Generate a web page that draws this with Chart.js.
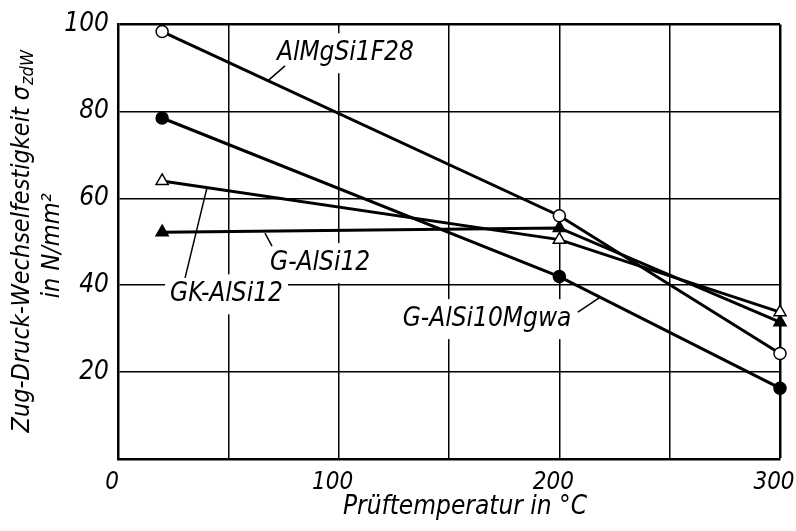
<!DOCTYPE html>
<html>
<head>
<meta charset="utf-8">
<script src="https://cdn.jsdelivr.net/npm/chart.js@4.4.1/dist/chart.umd.min.js"></script>
<style>
    body { margin: 0; background: #fff; }
</style>
</head>
<body>
<canvas id="chart" width="796" height="531"></canvas>
<script>
// test temperatures in °C
const temps = [20, 200, 300];

// fatigue strength in N/mm²
const alMgSi1F28 = [98.4, 56, 24.3];
const gAlSi10Mgwa = [78.5, 42, 16.3];
const gkAlSi12 = [64, 50.5, 33.8];
const gAlSi12 = [52.2, 53.2, 31.5];

const xTickLabels = [0, 100, 200, 300];
const yTickLabels = [20, 40, 60, 80, 100];

const FONT = '"DejaVu Sans Condensed", "Liberation Sans Narrow", sans-serif';

// curve labels, placed in data units, with their leader lines
const notes = [
    { text: "AlMgSi1F28", x: 72, y: 93.4, from: [75.7, 90.5], to: [68, 87.1] },
    { text: "G-AlSi12", x: 68.9, y: 45.1, from: [66.6, 52], to: [69.8, 49] },
    { text: "GK-AlSi12", x: 23.6, y: 37.9, from: [40.3, 62.4], to: [30.4, 41.7] },
    { text: "G-AlSi10Mgwa", x: 129, y: 32.2, from: [218.4, 37.2], to: [208.4, 33.8] }
];

function series(label, values, style, fill, radius) {
    return {
        label,
        data: temps.map((t, i) => ({ x: t, y: values[i] })),
        borderColor: "#000",
        borderWidth: 3,
        pointStyle: style,
        pointRadius: radius,
        pointBackgroundColor: fill,
        pointBorderColor: "#000",
        pointBorderWidth: 1.5,
        clip: false
    };
}

const notesPlugin = {
    id: "notes",
    beforeDatasetsDraw(chart) {
        const { ctx, scales: { x, y } } = chart;
        ctx.save();
        ctx.font = `italic 26px ${FONT}`;
        ctx.textBaseline = "middle";
        ctx.textAlign = "left";
        notes.forEach(n => {
            const px = x.getPixelForValue(n.x);
            const py = y.getPixelForValue(n.y);
            const w = ctx.measureText(n.text).width;
            ctx.fillStyle = "#fff";
            ctx.fillRect(px - 5, py - 20, w + 10, 40);
            ctx.fillStyle = "#000";
            ctx.fillText(n.text, px, py);
            ctx.beginPath();
            ctx.moveTo(x.getPixelForValue(n.from[0]), y.getPixelForValue(n.from[1]));
            ctx.lineTo(x.getPixelForValue(n.to[0]), y.getPixelForValue(n.to[1]));
            ctx.lineWidth = 1.5;
            ctx.strokeStyle = "#000";
            ctx.stroke();
        });
        ctx.restore();
    },
    afterDraw(chart) {
        const { ctx, chartArea } = chart;
        ctx.save();
        ctx.fillStyle = "#000";
        ctx.textBaseline = "middle";

        // x title
        ctx.font = `italic 26px ${FONT}`;
        ctx.textAlign = "center";
        ctx.fillText("Prüftemperatur in °C", (chartArea.left + chartArea.right) / 2 + 16, 507);

        // y title, two lines, with subscript
        const cy = (chartArea.top + chartArea.bottom) / 2;
        ctx.translate(22, cy);
        ctx.rotate(-Math.PI / 2);
        ctx.textAlign = "left";
        const main = "Zug-Druck-Wechselfestigkeit σ";
        const sub = "zdW";
        ctx.font = `italic 25px ${FONT}`;
        const w1 = ctx.measureText(main).width;
        ctx.font = `italic 18px ${FONT}`;
        const w2 = ctx.measureText(sub).width;
        const start = -(w1 + w2) / 2;
        ctx.font = `italic 25px ${FONT}`;
        ctx.fillText(main, start, 0);
        ctx.font = `italic 18px ${FONT}`;
        ctx.fillText(sub, start + w1 + 1, 6);
        ctx.font = `italic 25px ${FONT}`;
        ctx.textAlign = "center";
        ctx.fillText("in N/mm²", -4, 30);
        ctx.restore();
    }
};

new Chart(document.getElementById("chart"), {
    type: "line",
    data: {
        datasets: [
            series("AlMgSi1F28", alMgSi1F28, "circle", "#fff", 6),
            series("G-AlSi10Mgwa", gAlSi10Mgwa, "circle", "#000", 6),
            series("GK-AlSi12", gkAlSi12, "triangle", "#fff", 7),
            series("G-AlSi12", gAlSi12, "triangle", "#000", 7)
        ]
    },
    options: {
        responsive: false,
        animation: false,
        layout: { padding: { top: 18, right: 16, left: 0, bottom: 0 } },
        plugins: { legend: { display: false }, tooltip: { enabled: false } },
        scales: {
            x: {
                type: "linear",
                min: 0,
                max: 300,
                afterFit: s => { s.height = 72; s.paddingLeft = 0; s.paddingRight = 0; },
                ticks: {
                    stepSize: 50,
                    color: "#000",
                    padding: 9,
                    labelOffset: -6,
                    maxRotation: 0,
                    font: { family: FONT, size: 24, style: "italic" },
                    callback: v => xTickLabels.includes(v) ? v : ""
                },
                grid: {
                    color: "#000",
                    lineWidth: c => c.tick && c.tick.value === 300 ? 2.5 : 1.5,
                    drawTicks: false
                },
                border: { color: "#000", width: 2.5 }
            },
            y: {
                min: 0,
                max: 100,
                afterFit: s => { s.width = 118; },
                ticks: {
                    stepSize: 20,
                    color: "#000",
                    padding: 9,
                    font: { family: FONT, size: 26, style: "italic" },
                    callback: v => yTickLabels.includes(v) ? v : ""
                },
                grid: {
                    color: "#000",
                    lineWidth: c => c.tick && c.tick.value === 100 ? 2.5 : 1.5,
                    drawTicks: false
                },
                border: { color: "#000", width: 2.5 }
            }
        }
    },
    plugins: [notesPlugin]
});
</script>
</body>
</html>
